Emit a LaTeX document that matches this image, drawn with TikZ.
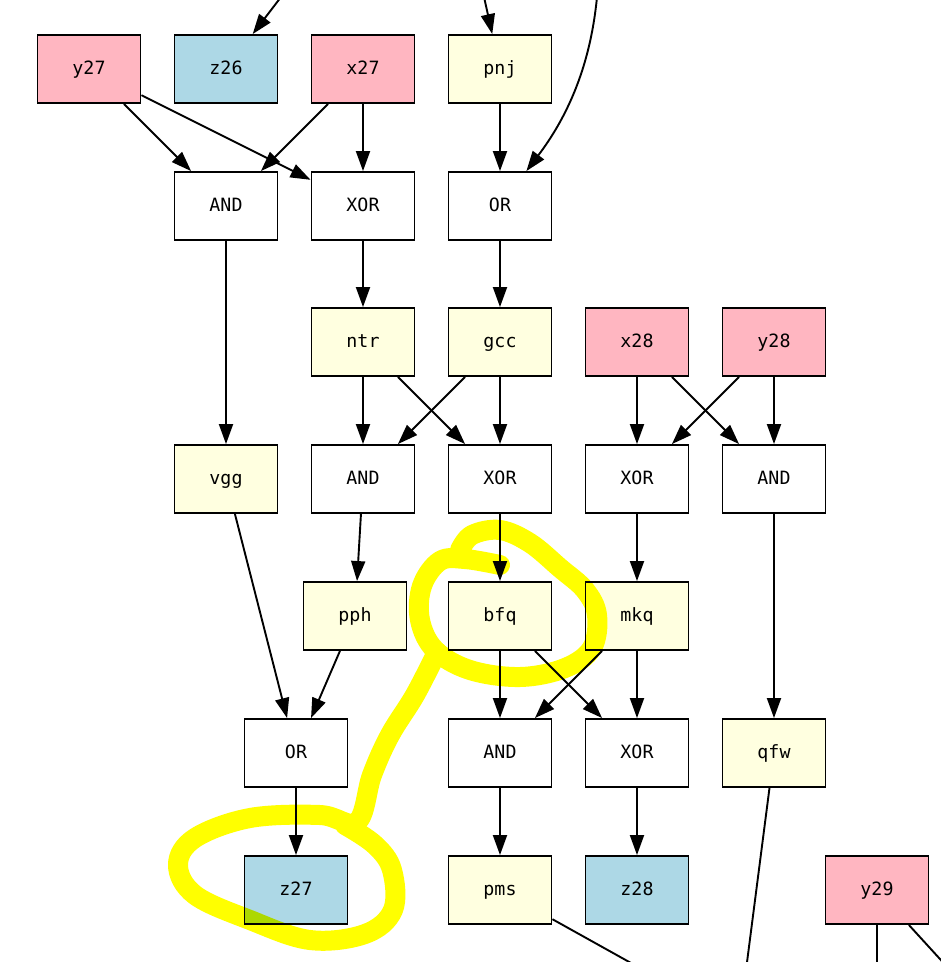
\documentclass[tikz,border=0pt]{standalone}
\usepackage{fontspec}
\setmonofont{DejaVu Sans Mono}
\usetikzlibrary{arrows.meta}
\definecolor{inpink}{HTML}{FFB6C1}
\definecolor{outblue}{HTML}{ADD8E6}
\definecolor{wireyel}{HTML}{FFFFE0}
\definecolor{hilite}{HTML}{FFFF00}
\begin{document}
\begin{tikzpicture}[x=1pt,y=-1pt,
  gbox/.style={draw=black,line width=1.9pt,minimum width=103pt,minimum height=68pt,inner sep=0pt,
    text height=14pt,text depth=4pt,
    font=\ttfamily\fontsize{18.3}{22}\selectfont},
  ingate/.style={gbox,fill=inpink},
  outgate/.style={gbox,fill=outblue},
  wiregate/.style={gbox,fill=wireyel},
  opgate/.style={gbox,fill=white},
  edge/.style={draw=black,line width=1.9pt,-{Triangle[length=20pt,width=14pt]}},
  plain/.style={draw=black,line width=1.9pt},
  hl/.style={draw=hilite,line width=20pt,line cap=round,line join=round}]
\useasboundingbox (0,0) rectangle (941,962);
% row 1
\node[ingate]  (y27) at (89,69) {y27};
\node[outgate] (z26) at (226,69) {z26};
\node[ingate]  (x27) at (363,69) {x27};
\node[wiregate] (pnj) at (500,69) {pnj};
% row 2
\node[opgate] (and2) at (226,206) {AND};
\node[opgate] (xor2) at (363,206) {XOR};
\node[opgate] (or2)  at (500,206) {OR};
% row 3
\node[wiregate] (ntr) at (363,342) {ntr};
\node[wiregate] (gcc) at (500,342) {gcc};
\node[ingate]   (x28) at (637,342) {x28};
\node[ingate]   (y28) at (774,342) {y28};
% row 4
\node[wiregate] (vgg) at (226,479) {vgg};
\node[opgate] (and4) at (363,479) {AND};
\node[opgate] (xor4) at (500,479) {XOR};
\node[opgate] (xor4b) at (637,479) {XOR};
\node[opgate] (and4b) at (774,479) {AND};
% row 5
\node[wiregate] (pph) at (355,616) {pph};
\node[wiregate] (bfq) at (500,616) {bfq};
\node[wiregate] (mkq) at (637,616) {mkq};
% row 6
\node[opgate] (or6) at (296,753) {OR};
\node[opgate] (and6) at (500,753) {AND};
\node[opgate] (xor6) at (637,753) {XOR};
\node[wiregate] (qfw) at (774,753) {qfw};
% row 7
\node[outgate] (z27) at (296,890) {z27};
\node[wiregate] (pms) at (500,890) {pms};
\node[outgate] (z28) at (637,890) {z28};
\node[ingate] (y29) at (877,890) {y29};
% free ends
\coordinate (t1) at (281,-3);
\coordinate (t2) at (484,-3);
\coordinate (t3) at (597,-3);
\coordinate (b1) at (640,968);
\coordinate (b2) at (746,970);
\coordinate (b3) at (877,970);
\coordinate (b4) at (950,970);
% edges
\draw[edge] (t1) -- (z26);
\draw[edge] (t2) -- (pnj);
\draw[edge] (t3) .. controls (590,70) and (565,120) .. (or2);
\draw[edge] (y27) -- (and2);
\draw[edge] (y27) -- (xor2);
\draw[edge] (x27) -- (and2);
\draw[edge] (x27) -- (xor2);
\draw[edge] (pnj) -- (or2);
\draw[edge] (and2) -- (vgg);
\draw[edge] (xor2) -- (ntr);
\draw[edge] (or2) -- (gcc);
\draw[edge] (ntr) -- (and4);
\draw[edge] (ntr) -- (xor4);
\draw[edge] (gcc) -- (and4);
\draw[edge] (gcc) -- (xor4);
\draw[edge] (x28) -- (xor4b);
\draw[edge] (x28) -- (and4b);
\draw[edge] (y28) -- (xor4b);
\draw[edge] (y28) -- (and4b);
\draw[edge] (vgg) -- (or6);
\draw[edge] (and4) -- (pph);
\draw[edge] (xor4) -- (bfq);
\draw[edge] (xor4b) -- (mkq);
\draw[edge] (and4b) -- (qfw);
\draw[edge] (pph) -- (or6);
\draw[edge] (bfq) -- (and6);
\draw[edge] (bfq) -- (xor6);
\draw[edge] (mkq) -- (and6);
\draw[edge] (mkq) -- (xor6);
\draw[edge] (or6) -- (z27);
\draw[edge] (and6) -- (pms);
\draw[edge] (xor6) -- (z28);
\draw[plain] (pms) -- (b1);
\draw[plain] (qfw) -- (b2);
\draw[plain] (y29) -- (b3);
\draw[plain] (y29) -- (b4);
% highlight
\begin{scope}[blend mode=multiply]
\draw[hl] plot[smooth,tension=0.6] coordinates {(500,565) (465,559) (440,561) (422,586) (420,620) (435,650) (470,670) (520,677) (565,668) (592,648) (597,615) (585,590) (560,568) (530,543) (500,530) (472,535) (460,550)};
\draw[hl] plot[smooth,tension=0.6] coordinates {(437,652) (415,695) (390,735) (372,775) (357,822) (320,815) (250,818) (195,838) (178,865) (195,895) (250,920) (310,940) (365,934) (393,910) (392,870) (375,845) (345,825)};
\end{scope}
\end{tikzpicture}
\end{document}
